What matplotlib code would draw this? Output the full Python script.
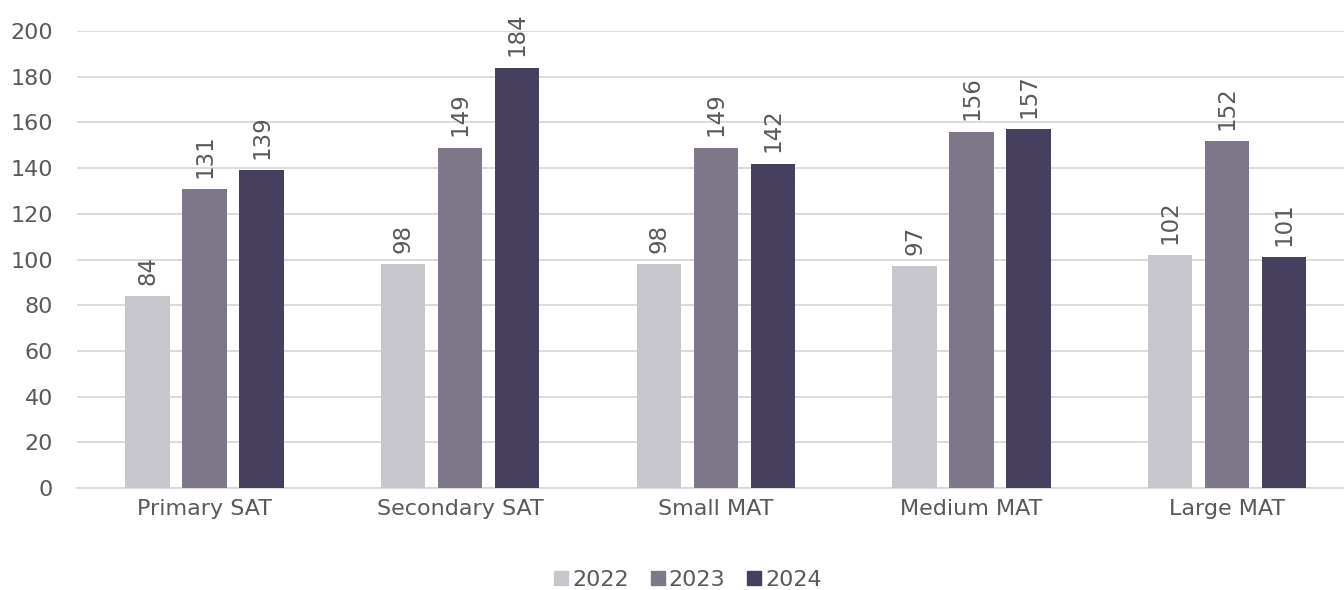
import matplotlib.pyplot as plt
import numpy as np

# Дані
categories = ["Primary SAT", "Secondary SAT", "Small MAT", "Medium MAT", "Large MAT"]
years = ["2022", "2023", "2024"]
values_2022 = [84, 98, 98, 97, 102]
values_2023 = [131, 149, 149, 156, 152]
values_2024 = [139, 184, 142, 157, 101]
colors = ["#C8C6CD", "#7E7789", "#46405E"]
text_color = "#595959"

plt.rcParams['font.family'] = ['DejaVu Sans']

fig = plt.figure(figsize=(13.44, 5.9), dpi=100)
ax = fig.add_axes([76.75 / 1344, 102 / 590, (1355 - 76.75) / 1344, (559 - 102) / 590])

x = np.arange(len(categories))
width = 0.173
step = 0.223

series = [values_2022, values_2023, values_2024]
for i, (vals, col, yr) in enumerate(zip(series, colors, years)):
    pos = x + (i - 1) * step
    bars = ax.bar(pos, vals, width, color=col, label=yr, zorder=3)
    for b, v in zip(bars, vals):
        ax.annotate(str(v), (b.get_x() + b.get_width() / 2, v),
                    xytext=(0, 8), textcoords="offset points",
                    rotation=90, ha="center", va="bottom",
                    fontsize=16.5, color=text_color)

ax.set_xlim(-0.5, len(categories) - 0.5)
ax.set_ylim(0, 200)
ax.set_yticks(range(0, 201, 20))
ax.set_xticks(x)
ax.set_xticklabels(categories)
ax.yaxis.grid(True, color="#D9D9D9", linewidth=1.3, zorder=0)
ax.tick_params(axis="both", length=0, labelsize=16, labelcolor=text_color)
ax.tick_params(axis="x", pad=8)
ax.tick_params(axis="y", pad=17)
for s in ["top", "right", "left"]:
    ax.spines[s].set_visible(False)
ax.spines["bottom"].set_color("#D9D9D9")
ax.spines["bottom"].set_linewidth(1.3)

handles = [plt.Line2D([], [], marker="s", linestyle="", markersize=9.5,
                      color=c) for c in colors]
fig.legend(handles, years, loc="center", bbox_to_anchor=(686 / 1344, 1 - 580 / 590),
           ncol=3, frameon=False, fontsize=16, labelcolor=text_color,
           handletextpad=0.0, columnspacing=0.8, handlelength=1.0)

plt.savefig("out.png", dpi=100)
plt.close()
